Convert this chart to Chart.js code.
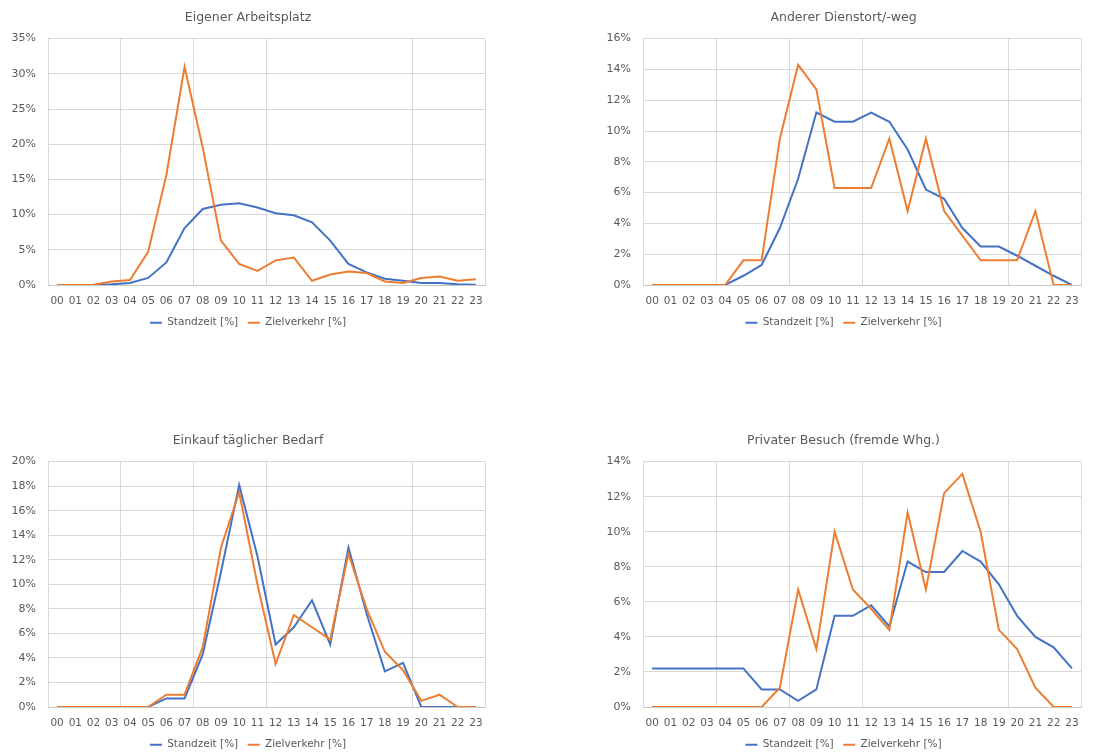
<!DOCTYPE html>
<html lang="de">
<head>
<meta charset="utf-8">
<title>Standzeit / Zielverkehr</title>
<script src="https://cdn.jsdelivr.net/npm/chart.js@4"></script>
<style>
    html, body { margin: 0; padding: 0; background: #fff; overflow: hidden; }
    .panel { position: absolute; }
</style>
</head>
<body>
<div class="panel" style="left:0;top:0;width:500px;height:338px;"><canvas id="chartArbeitsplatz"></canvas></div>
<div class="panel" style="left:560px;top:0;width:557px;height:338px;"><canvas id="chartDienstort"></canvas></div>
<div class="panel" style="left:0;top:423px;width:500px;height:337px;"><canvas id="chartEinkauf"></canvas></div>
<div class="panel" style="left:560px;top:423px;width:557px;height:337px;"><canvas id="chartBesuch"></canvas></div>
<script>
const hours = ['00', '01', '02', '03', '04', '05', '06', '07', '08', '09', '10', '11',
    '12', '13', '14', '15', '16', '17', '18', '19', '20', '21', '22', '23'];

// Eigener Arbeitsplatz (%)
const arbeitsplatzStandzeit = [0, 0, 0, 0.1, 0.3, 1.0, 3.2, 8.1, 10.8, 11.4, 11.6, 11.0, 10.2, 9.9, 8.9, 6.3, 3.0, 1.8, 0.9, 0.6, 0.3, 0.3, 0.1, 0.05];
const arbeitsplatzZielverkehr = [0, 0, 0.05, 0.5, 0.7, 4.7, 15.6, 31.0, 19.5, 6.3, 3.0, 2.0, 3.5, 3.9, 0.6, 1.5, 1.9, 1.7, 0.5, 0.3, 1.0, 1.2, 0.6, 0.8];

// Anderer Dienstort/-weg (%)
const dienstortStandzeit = [0, 0, 0, 0, 0, 0.6, 1.3, 3.7, 6.9, 11.2, 10.6, 10.6, 11.2, 10.6, 8.8, 6.2, 5.6, 3.7, 2.5, 2.5, 1.9, 1.25, 0.6, 0];
const dienstortZielverkehr = [0, 0, 0, 0, 0, 1.6, 1.6, 9.5, 14.3, 12.7, 6.3, 6.3, 6.3, 9.5, 4.8, 9.5, 4.8, 3.2, 1.6, 1.6, 1.6, 4.8, 0, 0];

// Einkauf täglicher Bedarf (%)
const einkaufStandzeit = [0, 0, 0, 0, 0, 0, 0.7, 0.7, 4.3, 11.0, 18.1, 12.3, 5.1, 6.5, 8.7, 5.1, 13.0, 7.6, 2.9, 3.6, 0, 0, 0, 0];
const einkaufZielverkehr = [0, 0, 0, 0, 0, 0, 1.0, 1.0, 4.9, 13.0, 17.5, 10.0, 3.5, 7.5, 6.5, 5.5, 12.5, 8.0, 4.5, 3.0, 0.5, 1.0, 0, 0];

// Privater Besuch (fremde Whg.) (%)
const besuchStandzeit = [2.2, 2.2, 2.2, 2.2, 2.2, 2.2, 1.0, 1.0, 0.35, 1.0, 5.2, 5.2, 5.8, 4.6, 8.3, 7.7, 7.7, 8.9, 8.3, 7.0, 5.2, 4.0, 3.4, 2.2];
const besuchZielverkehr = [0, 0, 0, 0, 0, 0, 0, 1.1, 6.7, 3.3, 10.0, 6.7, 5.6, 4.4, 11.1, 6.7, 12.2, 13.3, 10.0, 4.4, 3.3, 1.1, 0, 0];

const seriesLabels = ['Standzeit [%]', 'Zielverkehr [%]'];

const theme = {
    text: '#595959',
    grid: '#d9d9d9',
    axis: '#c8c8c8',
    blue: '#4472C4',
    orange: '#ED7D31'
};

// vertical grid lines only at these category boundaries (as in the source sheet)
const verticalGridAt = [0, 4, 8, 12, 20];

Chart.defaults.color = theme.text;
Chart.defaults.font.family = "'DejaVu Sans', 'Verdana', sans-serif";
Chart.defaults.animation = false;

function buildChart(canvasId, title, standzeit, zielverkehr, yMax, yStep, box) {
    const ctx = document.getElementById(canvasId).getContext('2d');

    return new Chart(ctx, {
        type: 'line',
        data: {
            labels: hours,
            datasets: [{
                label: seriesLabels[0],
                data: standzeit,
                borderColor: theme.blue,
                backgroundColor: theme.blue,
                borderWidth: 2,
                pointRadius: 0,
                tension: 0,
                order: 1
            }, {
                label: seriesLabels[1],
                data: zielverkehr,
                borderColor: theme.orange,
                backgroundColor: theme.orange,
                borderWidth: 2,
                pointRadius: 0,
                tension: 0,
                order: 0
            }]
        },
        options: {
            responsive: true,
            maintainAspectRatio: false,
            events: [],
            layout: {
                padding: { left: box.padLeft, right: box.padRight, top: 0, bottom: 0 }
            },
            plugins: {
                title: {
                    display: true,
                    text: title,
                    color: theme.text,
                    font: { size: 12.5, weight: 'normal' },
                    padding: { top: 10, bottom: 13.6 }
                },
                legend: {
                    position: 'bottom',
                    labels: {
                        usePointStyle: true,
                        pointStyle: 'line',
                        pointStyleWidth: 12,
                        padding: 9.5,
                        color: theme.text,
                        font: { size: 10.5 },
                        sort: (a, b) => a.datasetIndex - b.datasetIndex
                    }
                },
                tooltip: { enabled: false }
            },
            scales: {
                x: {
                    offset: true,
                    grid: {
                        offset: true,
                        drawTicks: false,
                        color: (c) => (c.index === undefined || verticalGridAt.includes(c.index)) ? theme.grid : 'rgba(0,0,0,0)'
                    },
                    border: { display: true, color: theme.axis },
                    ticks: {
                        autoSkip: false,
                        maxRotation: 0,
                        padding: 10,
                        color: theme.text,
                        font: { size: 10.5 }
                    },
                    afterFit: (scale) => { scale.height = 23; }
                },
                y: {
                    min: 0,
                    max: yMax,
                    grid: { color: theme.grid, drawTicks: false },
                    border: { display: false },
                    ticks: {
                        stepSize: yStep,
                        padding: 12,
                        color: theme.text,
                        font: { size: 11 },
                        callback: (value) => `${value}%`
                    },
                    afterFit: (scale) => { scale.width = box.axisWidth; }
                }
            }
        }
    });
}

document.addEventListener('DOMContentLoaded', () => {
    const leftBox = { padLeft: 11, padRight: 15, axisWidth: 37 };
    const rightBox = { padLeft: 46, padRight: 36, axisWidth: 37 };

    buildChart('chartArbeitsplatz', 'Eigener Arbeitsplatz', arbeitsplatzStandzeit, arbeitsplatzZielverkehr, 35, 5, leftBox);
    buildChart('chartDienstort', 'Anderer Dienstort/-weg', dienstortStandzeit, dienstortZielverkehr, 16, 2, rightBox);
    buildChart('chartEinkauf', 'Einkauf täglicher Bedarf', einkaufStandzeit, einkaufZielverkehr, 20, 2, leftBox);
    buildChart('chartBesuch', 'Privater Besuch (fremde Whg.)', besuchStandzeit, besuchZielverkehr, 14, 2, rightBox);
});
</script>
</body>
</html>
